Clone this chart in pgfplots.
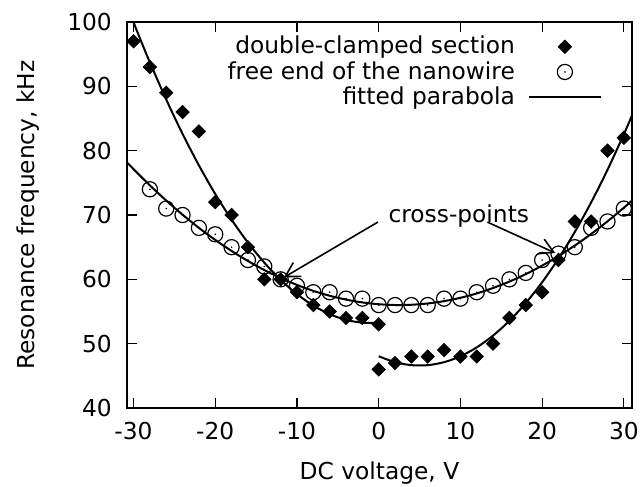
\documentclass[border=0pt]{standalone}
\usepackage{fontspec}
\setmainfont{DejaVu Sans}
\usepackage{pgfplots}
\pgfplotsset{compat=1.18}
\usetikzlibrary{arrows.meta}

% circle with a dot in the middle (gnuplot style)
\pgfdeclareplotmark{odot}{%
  \pgfpathcircle{\pgfpointorigin}{\pgfplotmarksize}\pgfusepathqstroke
  \pgfpathcircle{\pgfpointorigin}{0.45pt}\pgfusepathqfill}

\newcommand\gpfont{\fontsize{11.7}{14}\selectfont}

\begin{document}
\gpfont
\begin{tikzpicture}
\useasboundingbox (-63.5bp,-39.5bp) rectangle (257.5bp,204bp);
\begin{axis}[
  scale only axis,
  width=252.5bp, height=193bp,
  xmin=-30.8, xmax=31,
  ymin=40, ymax=100,
  xtick={-30,-20,...,30},
  ytick={40,50,...,100},
  tick align=inside,
  major tick length=5bp,
  axis line style={line width=0.6pt},
  tick style={line width=0.6pt, black},
  /pgf/number format/assume math mode=true,
  ticklabel style={font=\gpfont},
  yticklabel style={xshift=-3.5bp},
  xticklabel style={yshift=-3bp},
  xlabel={DC voltage, V},
  ylabel={Resonance frequency, kHz},
  label style={font=\gpfont},
  xlabel style={yshift=-3bp},
  ylabel style={yshift=6bp},
  legend plot pos=right,
  legend cell align=right,
  legend style={at={(0.953,0.985)}, anchor=north east, draw=none, fill=none,
    font=\gpfont, row sep=-2pt},
  legend image code/.code={%
    \path (0cm,0cm);
    \draw[mark repeat=2,mark phase=2,#1]
      plot coordinates {(0.16cm,0cm) (0.795cm,0cm) (1.43cm,0cm)};},
]
\addplot[only marks, mark=square*, mark size=2.35pt,
  mark options={rotate=45, fill=black, draw=black}]
  coordinates {
  (-30,97) (-28,93) (-26,89) (-24,86) (-22,83) (-20,72) (-18,70) (-16,65)
  (-14,60) (-12,60) (-10,58) (-8,56) (-6,55) (-4,54) (-2,54) (0,53)
  (0,46) (2,47) (4,48) (6,48) (8,49) (10,48) (12,48) (14,50)
  (16,54) (18,56) (20,58) (22,63) (24,69) (26,69) (28,80) (30,82)};
\addlegendentry{double-clamped section}

\addplot[only marks, mark=odot, mark size=3.8pt, black, line width=0.6pt]
  coordinates {
  (-28,74) (-26,71) (-24,70) (-22,68) (-20,67) (-18,65) (-16,63) (-14,62)
  (-12,60) (-10,59) (-8,58) (-6,58) (-4,57) (-2,57) (0,56) (2,56)
  (4,56) (6,56) (8,57) (10,57) (12,58) (14,59) (16,60) (18,61)
  (20,63) (22,64) (24,65) (26,68) (28,69) (30,71)};
\addlegendentry{free end of the nanowire}

% fitted parabolas
\addplot[black, line width=1bp, smooth, no marks]
  coordinates {
  (-30.8,78.18) (-30,77.13) (-28,74.61) (-26,72.25) (-24,70.05) (-22,68.00)
  (-20,66.13) (-18,64.41) (-16,62.85) (-14,61.45) (-12,60.21) (-10,59.13)
  (-8,58.21) (-6,57.45) (-4,56.85) (-2,56.41) (0,56.13) (2,56.01)
  (4,56.05) (6,56.25) (8,56.61) (10,57.13) (12,57.81) (14,58.65)
  (16,59.65) (18,60.81) (20,62.13) (22,63.61) (24,65.25) (26,67.05)
  (28,69.01) (30,71.13) (31,72.25)};
\addlegendentry{fitted parabola}

\addplot[black, line width=1bp, smooth, no marks, forget plot]
  coordinates {
  (-30,99.96) (-29,96.79) (-28,93.73) (-26,87.95) (-24,82.61) (-22,77.72)
  (-20,73.27) (-18,69.27) (-16,65.71) (-14,62.60) (-12,59.93) (-10,57.70)
  (-8,55.92) (-6,54.59) (-4,53.70) (-2,53.26) (0,53.26)};

\addplot[black, line width=1bp, smooth, no marks, forget plot]
  coordinates {
  (0,48.04) (2,47.12) (4,46.66) (6,46.66) (8,47.12) (10,48.04)
  (12,49.42) (14,51.26) (16,53.56) (18,56.32) (20,59.54) (22,63.22)
  (24,67.36) (26,71.96) (28,77.02) (30,82.54) (31,85.47)};

\node[font=\gpfont] at (axis cs:9.8,69.8) {cross-points};
\draw[line width=0.8bp, -{Straight Barb[length=7bp,width=8bp]}]
  (axis cs:-0.1,68.9) -- (axis cs:-11.6,60.3);
\draw[line width=0.8bp, -{Straight Barb[length=7bp,width=8bp]}]
  (axis cs:13.3,68.9) -- (axis cs:21.6,64.1);
\end{axis}
\end{tikzpicture}
\end{document}
